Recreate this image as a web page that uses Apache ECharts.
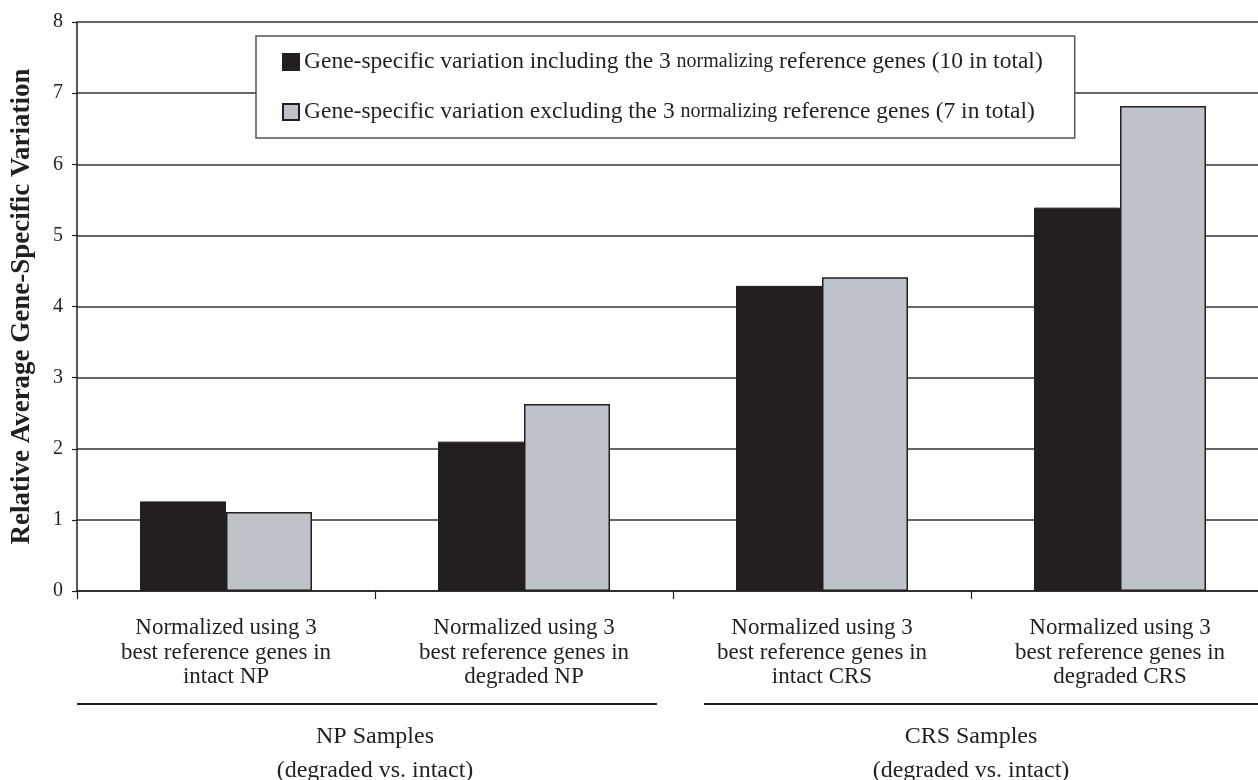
<!DOCTYPE html>
<html>
<head>
<meta charset="utf-8">
<script src="https://cdn.jsdelivr.net/npm/echarts@6/dist/echarts.min.js"></script>
<style>
html,body{margin:0;padding:0;background:#fff;}
#chart{width:1258px;height:780px;}
</style>
</head>
<body>
<div id="chart"></div>
<script>
// ---- data ----
var categories = [
  'Normalized using 3\nbest reference genes in\nintact NP',
  'Normalized using 3\nbest reference genes in\ndegraded NP',
  'Normalized using 3\nbest reference genes in\nintact CRS',
  'Normalized using 3\nbest reference genes in\ndegraded CRS'
];
var seriesNames = [
  'Gene-specific variation including the 3 normalizing reference genes (10 in total)',
  'Gene-specific variation excluding the 3 normalizing reference genes (7 in total)'
];
var includingValues = [1.26, 2.10, 4.29, 5.39];
var excludingValues = [1.11, 2.63, 4.41, 6.82];
var yTicks = [0, 1, 2, 3, 4, 5, 6, 7, 8];
var groupLabels = ['NP Samples\n(degraded vs. intact)', 'CRS Samples\n(degraded vs. intact)'];
var yTitle = 'Relative Average Gene-Specific Variation';

var FONT = '"Liberation Serif", "Times New Roman", serif';
var INK = '#231f20';

var chart = echarts.init(document.getElementById('chart'), null, {renderer: 'canvas'});

var option = {
  animation: false,
  backgroundColor: '#ffffff',
  textStyle: {fontFamily: FONT, color: INK},
  grid: {left: 77, right: -11, top: 22, bottom: 189, containLabel: false, outerBoundsMode: 'none'},
  legend: {
    orient: 'vertical',
    left: 256,
    top: 36,
    padding: [14, 32, 14, 26],
    itemGap: 26,
    itemWidth: 16,
    itemHeight: 16,
    icon: 'rect',
    borderColor: '#555',
    borderWidth: 1.5,
    backgroundColor: '#fff',
    data: seriesNames,
    formatter: function (name) {
      return name.replace('3 normalizing', '3 {s|normalizing}');
    },
    textStyle: {
      fontFamily: FONT, fontSize: 23.5, color: INK, lineHeight: 24,
      rich: {s: {fontFamily: FONT, fontSize: 20, color: INK, lineHeight: 24}}
    }
  },
  xAxis: [
    {
      type: 'category',
      data: categories,
      axisLine: {lineStyle: {color: INK, width: 1.5}},
      axisTick: {show: true, length: 8, lineStyle: {color: INK, width: 1.2}},
      axisLabel: {
        fontFamily: FONT, fontSize: 23, color: INK, lineHeight: 24.5,
        margin: 25, interval: 0, align: 'center'
      }
    },
    {
      type: 'category',
      position: 'bottom',
      data: groupLabels,
      axisLine: {show: false},
      axisTick: {show: false},
      splitLine: {show: false},
      axisLabel: {
        fontFamily: FONT, fontSize: 24, color: INK, lineHeight: 34,
        margin: 129, interval: 0, align: 'center'
      }
    }
  ],
  yAxis: {
    type: 'value',
    min: yTicks[0],
    max: yTicks[yTicks.length - 1],
    interval: 1,
    name: yTitle,
    nameLocation: 'middle',
    nameGap: 41,
    nameRotate: 90,
    nameTextStyle: {fontFamily: FONT, fontSize: 27, fontWeight: 'bold', color: INK},
    axisLine: {show: true, lineStyle: {color: INK, width: 1.5}},
    axisTick: {show: true, length: 5, lineStyle: {color: INK, width: 1.2}},
    axisLabel: {fontFamily: FONT, fontSize: 20, color: INK, margin: 14},
    splitLine: {show: true, lineStyle: {color: '#333', width: 1.5}}
  },
  series: [
    {
      name: seriesNames[0],
      type: 'bar',
      data: includingValues,
      barWidth: 86,
      barGap: '0%',
      itemStyle: {color: INK, borderColor: INK, borderWidth: 1}
    },
    {
      name: seriesNames[1],
      type: 'bar',
      data: excludingValues,
      barWidth: 86,
      barGap: '0%',
      itemStyle: {color: '#bec3ca', borderColor: INK, borderWidth: 1.5}
    }
  ],
  graphic: [
    {type: 'line', shape: {x1: 77, y1: 704, x2: 657, y2: 704}, style: {stroke: INK, lineWidth: 2}},
    {type: 'line', shape: {x1: 704, y1: 704, x2: 1258, y2: 704}, style: {stroke: INK, lineWidth: 2}}
  ]
};
chart.setOption(option);
</script>
</body>
</html>
